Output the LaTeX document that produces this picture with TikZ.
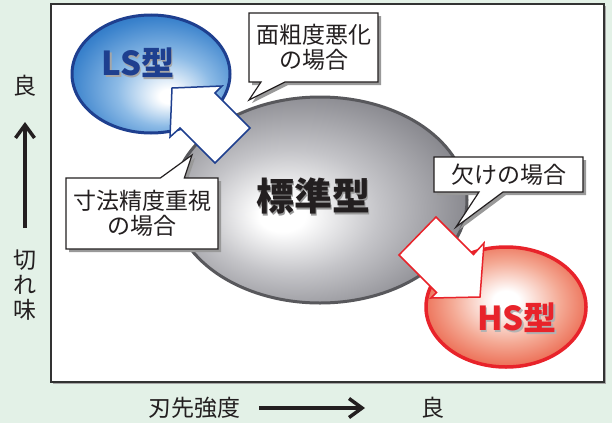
\documentclass[tikz,border=0pt]{standalone}
\usepackage{fontspec}
\newfontfamily\jp{Noto Sans CJK JP}
\usetikzlibrary{arrows.meta,shapes.geometric,shapes.callouts,shadows}
\definecolor{bggreen}{HTML}{E3F1E7}
\definecolor{inkgray}{HTML}{231F20}
\definecolor{stdedge}{HTML}{5E5E64}
\definecolor{stdmid}{HTML}{C4C4C8}
\definecolor{stdout}{HTML}{8A8A90}
\definecolor{stdline}{HTML}{58585C}
\definecolor{lsedge}{HTML}{1F68B8}
\definecolor{lsmid}{HTML}{8DBBE6}
\definecolor{lsout}{HTML}{3A82CC}
\definecolor{lsline}{HTML}{1E3F8F}
\definecolor{hsedge}{HTML}{E4402C}
\definecolor{hsmid}{HTML}{F4A994}
\definecolor{hsout}{HTML}{EA5E44}
\definecolor{hsline}{HTML}{E8232A}
\pgfdeclareradialshading{stdball}{\pgfpoint{-7bp}{-4bp}}{color(0bp)=(white); color(4bp)=(white); color(15bp)=(stdmid); color(28bp)=(stdout); color(35bp)=(stdedge); color(50bp)=(stdedge)}
\pgfdeclareradialshading{lsball}{\pgfpoint{6bp}{-10bp}}{color(0bp)=(white); color(3bp)=(white); color(15bp)=(lsmid); color(28bp)=(lsout); color(35bp)=(lsedge); color(50bp)=(lsedge)}
\pgfdeclareradialshading{hsball}{\pgfpoint{0bp}{3bp}}{color(0bp)=(white); color(4bp)=(white); color(17bp)=(hsmid); color(29bp)=(hsout); color(35bp)=(hsedge); color(50bp)=(hsedge)}
\begin{document}
\begin{tikzpicture}[x=1pt,y=-1pt,
  axislabel/.style={font=\jp\fontsize{23}{25}\selectfont, text=inkgray, inner sep=0pt},
  axisarrow/.style={line width=3.5pt, inkgray, -{Straight Barb[length=13pt,width=19pt]}},
  bubble/.style={rectangle callout, draw=inkgray, line width=1.2pt, fill=white,
    inner sep=0pt, align=center, callout pointer width=24pt,
    font=\jp\fontsize{23}{25}\selectfont, text=inkgray,
    drop shadow={shadow xshift=3pt, shadow yshift=-3pt, fill=black!40, opacity=1}},
  blob/.style={ellipse, inner sep=0pt},
  typename/.style={font=\jp\bfseries\fontsize{33}{36}\selectfont},
  blocktip/.style={fill=white, line width=1.5pt, line join=miter}]
\useasboundingbox (0,0) rectangle (612,423);
\fill[bggreen] (0,0) rectangle (612,423);
\fill[black!35] (53,6) rectangle (606,384);
\draw[line width=1.5pt, draw=black!80, fill=white] (51,4) rectangle (604,382);

% axes
\node[axislabel] (ygood) at (25,86) {良};
\node[axislabel, align=center, font=\jp\fontsize{23}{25}\selectfont] (kireaji) at (25,285) {切\\れ\\味};
\node[axislabel] (hasaki) at (194,408) {刃先強度};
\node[axislabel] (xgood) at (433,408) {良};
\coordinate (ytail) at (25,228);
\coordinate (yhead) at (25,122);
\coordinate (xtail) at (259,408);
\coordinate (xhead) at (365,408);
\path[draw,axisarrow] (ytail) -- (yhead);
\path[draw,axisarrow] (xtail) -- (xhead);

% types
\node[blob, minimum width=294pt, minimum height=206pt, draw=stdline, line width=3pt, shading=stdball] (std) at (320,200) {};
\node[blob, minimum width=158pt, minimum height=118pt, draw=lsline, line width=3pt, shading=lsball] (ls) at (151,74) {};
\node[blob, minimum width=160pt, minimum height=120pt, draw=hsline, line width=3.5pt, shading=hsball] (hs) at (506,307) {};

\node[font=\jp\bfseries\fontsize{38}{40}\selectfont, text=black!40] at (314.5,197.5) {標準型};
\node[font=\jp\bfseries\fontsize{38}{40}\selectfont, text=inkgray] (stdname) at (313,196) {標準型};
\node[typename, text=black!35] at (139.5,64.5) {LS型};
\node[typename, text=lsline] (lsname) at (138,63) {LS型};
\node[typename, text=black!30] at (518.5,319.5) {HS型};
\node[typename, text=hsline] (hsname) at (517,318) {HS型};

% callouts
\node[bubble, minimum width=129pt, minimum height=69pt, callout absolute pointer={(249,100)}] (rough) at (313.5,47.5) {面粗度悪化\\の場合};
\node[bubble, minimum width=152pt, minimum height=71pt, callout absolute pointer={(192,155)}] (precise) at (142,213.5) {寸法精度重視\\の場合};
\node[bubble, minimum width=149pt, minimum height=35pt, callout absolute pointer={(456,227)}] (chip) at (508.5,174.5) {欠けの場合};

% block arrows
\draw[blocktip, draw=lsline] (172,88) -- (222,86) -- (215,93) -- (250,128) -- (215,163) -- (180,128) -- (170,137) -- cycle;
\draw[blocktip, draw=hsline] (436,217) -- (473.5,254.5) -- (484,243) -- (480,297) -- (431,298) -- (436.5,292.5) -- (399,255) -- cycle;
\end{tikzpicture}
\end{document}
